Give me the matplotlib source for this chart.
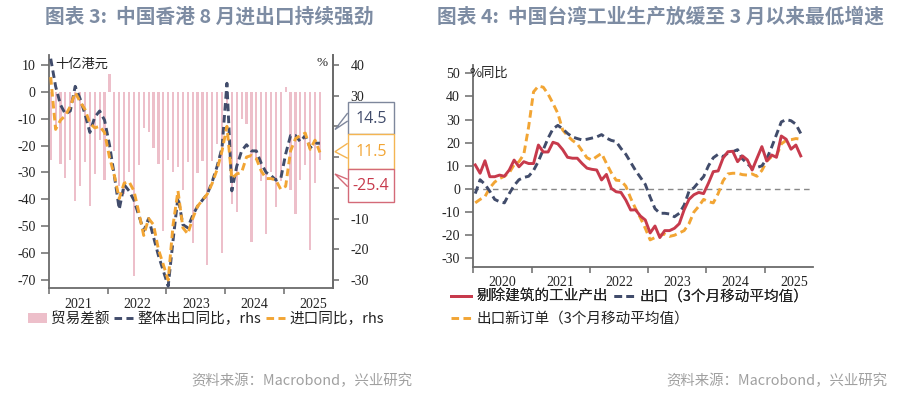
import matplotlib
matplotlib.use('Agg')
import matplotlib.pyplot as plt
import numpy as np
from matplotlib.patches import Polygon, Rectangle
from matplotlib.lines import Line2D

plt.rcParams['font.family'] = ['Noto Sans CJK SC', 'DejaVu Sans']

# ---------------- data ----------------
# Hong Kong, monthly from Jan 2021 to Aug 2025
hk_start_year = 2021
hk_trade_balance = [-25.4, -14, -26.9, -31.9, -25.4, -40.5, -35, -26.3, -42.4, -30.4, -18, -32.9,
                    6.5, -22, -35, -38, -30, -68.5, -27.3, -13.4, -15, -20.8, -26.9, -51.8,
                    -25.4, -30, -28, -36.6, -26.3, -56.4, -30.3, -25.7, -64.6, -25.6, -19.5, -59.8,
                    -6, -41.6, -44.6, -10.2, -11.8, -55.8, -25.4, -33, -52.8, -30, -43, -33,
                    1.9, -36.6, -45.3, -32.9, -27.3, -58.9, -34.1, -25.4]
hk_export_yoy = [42, 33, 27, 24, 25, 33, 29, 24, 18, 23, 25, 22,
                 14, 4, -7, 1, -1, -4, -9, -14, -10, -16, -22, -27,
                 -32, -17, -3, -12, -13, -9, -6, -4, -2, 2, 7, 13,
                 34, -1, 7, 12, 14, 12, 12, 8, 5, 4, 2.5, 3,
                 11, 17, 17, 15, 17, 13, 14.5, 14.5]
hk_import_yoy = [36, 19, 22, 23.5, 26.5, 31, 28, 25.5, 21, 19.5, 20, 18,
                 10, 4, -3.5, 1.5, 2, -1, -8, -15.5, -10, -12, -20, -25,
                 -30, -12, -1, -13, -15, -10, -6, -4, -2, 1.5, 6, 12,
                 20, 3, 4.5, 5, 10, 10.5, 9.5, 5.5, 3, 3, 2.5, -0.5,
                 0.5, 12, 16, 17, 17.8, 12.5, 15.5, 11.5]
hk_years = [2021, 2022, 2023, 2024, 2025]
hk_left_ticks = [10, 0, -10, -20, -30, -40, -50, -60, -70]
hk_right_ticks = [40, 30, 20, 10, 0, -10, -20, -30]
hk_right_hidden = [20, 10, 0]   # labels covered by the value boxes in the original

# Taiwan, monthly from Jan 2020 to Aug 2025
tw_start_year = 2020
tw_ip_ex_construction = [10.4, 6.8, 12.2, 5.3, 5.3, 6, 5.5, 8.2, 12.5, 9.6, 11.8, 11,
                         11, 19, 16, 16, 20.2, 19.5, 17, 13.7, 13.3, 13.3, 11, 9,
                         8.5, 8.2, 3.9, 6.3, 0.3, -1.2, -1.5, -4.8, -9.1, -9, -11.7, -13.4,
                         -19, -16, -21, -18, -18, -17, -15, -9, -4.5, -2.5, -1.5, -2,
                         2.5, 7.5, 7.8, 13.3, 16.1, 16.3, 11.8, 14.3, 12.6, 8.2, 13.3, 18.3,
                         12.1, 14.7, 13.7, 22.9, 21.5, 17.2, 19, 14.3]
tw_export_3mma = [-2, 4, 2, -1, -4.5, -5.5, -6, -2, 1.5, 4, 5, 5.5,
                  8, 12, 17, 22, 26, 27.5, 26, 24, 22.5, 21.8, 21.2, 21.5,
                  22, 22.5, 23.5, 22, 21, 20.5, 17.5, 15, 11.5, 8, 5, 2,
                  -3.5, -8.5, -10.5, -10.5, -10.8, -12, -10.5, -7, -1, 0.5, 3, 5.3,
                  10, 13.5, 15, 14, 15.5, 16.1, 17, 13, 11, 9, 9.3, 10,
                  13, 18, 23.5, 29, 30, 29.5, 28, 24]
tw_export_orders_3mma = [-6, -4.5, -3.3, 0.5, 3, 4.5, 5.5, 7, 10.5, 11.8, 15, 27,
                         42, 44.5, 44, 41, 37, 32.7, 25.5, 23, 21, 19.5, 16.5, 13.5,
                         12.5, 14, 15.4, 11.1, 7, 3.8, 3.6, 1.2, -4, -8.5, -12.5, -17,
                         -22, -21, -20, -19.5, -20.5, -20, -19, -18, -15, -10, -7.5, -4.5,
                         -5.5, -6, -2, 3.5, 6.5, 6.8, 6.8, 6.2, 6, 6.5, 5.5, 8,
                         12, 14, 14.3, 19.5, 21, 21.3, 21.8, 21.5]
tw_years = [2020, 2021, 2022, 2023, 2024, 2025]
tw_ticks = [50, 40, 30, 20, 10, 0, -10, -20, -30]

# ---------------- styles ----------------
W, H = 906, 394
C_BAR = '#edbfca'
C_NAVY = '#414c6b'
C_ORANGE = '#f2a534'
C_RED = '#c73a4c'
C_TITLE = '#7d8ca3'
C_SPINE = '#6b6b6b'
C_TXT = '#222222'
NUM_FONT = ['Liberation Serif', 'DejaVu Serif']
DASH = (2.6, 1.5)


def fx(px):
    return px / W


def fy(py):
    return 1 - py / H


fig = plt.figure(figsize=(W / 100, H / 100), dpi=100)
fig.patch.set_facecolor('white')


def style_time_axis(ax, years, xmax):
    ax.set_xlim(years[0], xmax)
    ax.set_xticks(years)
    ax.set_xticklabels([])
    ax.set_xticks([y + 0.5 for y in years], minor=True)
    ax.set_xticklabels([str(y) for y in years], minor=True, family=NUM_FONT, fontsize=10, color=C_TXT)
    ax.tick_params(axis='x', which='major', length=4.5, width=1.1, color=C_SPINE, direction='out')
    ax.tick_params(axis='x', which='minor', length=0, pad=7)


def legend_row(handles, labels, x_px, y_px):
    leg = fig.legend(handles, labels, loc='center left', bbox_to_anchor=(fx(x_px), fy(y_px)),
                     ncol=len(handles), frameon=False, fontsize=10.5, handlelength=1.4,
                     handleheight=0.75, handletextpad=0.35, columnspacing=0.4,
                     borderpad=0, borderaxespad=0)
    for t in leg.get_texts():
        t.set_color(C_TXT)
    return leg


# ================= left chart =================
axL = fig.add_axes([fx(49), fy(288), fx(333) - fx(49), fy(55) - fy(288)])
n_hk = len(hk_trade_balance)
t_hk = hk_start_year + (np.arange(n_hk) + 0.35) / 12
axL.bar(t_hk, hk_trade_balance, width=0.45 / 12, color=C_BAR, zorder=1)
axL.set_ylim(-73, 13.7)
axL.set_yticks(hk_left_ticks)
axL.set_yticklabels([str(v) for v in hk_left_ticks], family=NUM_FONT, fontsize=10, color=C_TXT)
style_time_axis(axL, hk_years, 2025.835)
axL.tick_params(axis='y', length=5.5, width=1.1, color=C_SPINE, direction='out', pad=4)
axL.spines['top'].set_visible(False)
for s in ['left', 'bottom', 'right']:
    axL.spines[s].set_color(C_SPINE)
    axL.spines[s].set_linewidth(1.3)

axR = axL.twinx()
axR.set_ylim(-32.6, 43.2)
axR.set_yticks(hk_right_ticks)
axR.set_yticklabels(['' if v in hk_right_hidden else str(v) for v in hk_right_ticks],
                    family=NUM_FONT, fontsize=10, color=C_TXT)
axR.tick_params(axis='y', length=4.5, width=1.1, color=C_SPINE, direction='out', pad=8)
axR.spines['top'].set_visible(False)
axR.spines['left'].set_visible(False)
axR.spines['bottom'].set_visible(False)
axR.spines['right'].set_color(C_SPINE)
axR.spines['right'].set_linewidth(1.3)
ln_exp, = axR.plot(t_hk, hk_export_yoy, color=C_NAVY, lw=2.1, dashes=DASH, zorder=3)
ln_imp, = axR.plot(t_hk, hk_import_yoy, color=C_ORANGE, lw=2.1, dashes=DASH, zorder=4)

fig.text(fx(55), fy(64), '十亿港元', fontsize=9.5, color=C_TXT, va='center', ha='left')
fig.text(fx(322), fy(63), '%', family=NUM_FONT, fontsize=9.5, color=C_TXT, va='center', ha='center')

# callout boxes with the latest values
ov = fig.add_axes([0, 0, 1, 1], facecolor='none')
ov.set_xlim(0, W)
ov.set_ylim(H, 0)
ov.axis('off')
boxes = [
    (101.7, 134.3, f'{hk_export_yoy[-1]:.1f}', C_NAVY, '#7e879c', [(347.7, 113), (335, 129.5), (347.7, 121)]),
    (134.3, 169.0, f'{hk_import_yoy[-1]:.1f}', C_ORANGE, '#f4b552', [(347.7, 143.3), (335, 151.7), (347.7, 158.3)]),
    (169.0, 201.7, f'{hk_trade_balance[-1]:.1f}', C_RED, '#d46a78', [(347.7, 179.3), (335, 174), (347.7, 186.7)]),
]
for y0, y1, txt, tc, ec, ptr in boxes:
    ov.add_patch(Rectangle((347.7, y0), 46.5, y1 - y0, facecolor='white', edgecolor=ec, lw=1.0, zorder=5))
    ov.add_patch(Polygon(ptr, closed=False, fill=False, edgecolor=ec, lw=1.0, zorder=6))
    ov.text(371, (y0 + y1) / 2 + 0.5, txt, color=tc, fontsize=11.5, ha='center', va='center',
            family=['Open Sans', 'DejaVu Sans'], zorder=7)

# legend left
hL = [Rectangle((0, 0), 1, 1, facecolor=C_BAR, edgecolor='none'),
      Line2D([], [], color=C_NAVY, lw=2.1, dashes=DASH),
      Line2D([], [], color=C_ORANGE, lw=2.1, dashes=DASH)]
legL = fig.legend(hL, ['贸易差额', '整体出口同比，rhs', '进口同比，rhs'], loc='center left',
                  bbox_to_anchor=(fx(28), fy(319)), ncol=3, frameon=False, fontsize=10.5,
                  handlelength=1.3, handleheight=0.75, handletextpad=0.3, columnspacing=0.3,
                  borderpad=0, borderaxespad=0)
for t in legL.get_texts():
    t.set_color(C_TXT)

# ================= right chart =================
ax2 = fig.add_axes([fx(473.3), fy(266.7), fx(813) - fx(473.3), fy(65) - fy(266.7)])
n_tw = len(tw_ip_ex_construction)
t_tw = tw_start_year + (np.arange(n_tw) + 0.4) / 12
ax2.axhline(0, color='#888888', lw=1.0, ls=(0, (4, 3)), zorder=1)
ln_ord, = ax2.plot(t_tw, tw_export_orders_3mma, color=C_ORANGE, lw=2.1, dashes=DASH, zorder=2)
ln_ex2, = ax2.plot(t_tw, tw_export_3mma, color=C_NAVY, lw=2.1, dashes=DASH, zorder=3)
ln_ip, = ax2.plot(t_tw, tw_ip_ex_construction, color=C_RED, lw=2.1, zorder=4)
ax2.set_ylim(-33.6, 53.6)
ax2.set_yticks(tw_ticks)
ax2.set_yticklabels([str(v) for v in tw_ticks], family=NUM_FONT, fontsize=10, color=C_TXT)
ax2.tick_params(axis='y', length=5.5, width=1.1, color=C_SPINE, direction='out', pad=4)
style_time_axis(ax2, tw_years, 2025.827)
ax2.spines['top'].set_visible(False)
ax2.spines['right'].set_visible(False)
for s in ['left', 'bottom']:
    ax2.spines[s].set_color(C_SPINE)
    ax2.spines[s].set_linewidth(1.3)
fig.text(fx(470), fy(73), '%同比', fontsize=9.5, color=C_TXT, va='center', ha='left')

legR1 = legend_row([ln_ip, ln_ex2], ['剔除建筑的工业产出', '出口（3个月移动平均值）'], 451, 297)
legR2 = legend_row([ln_ord], ['出口新订单（3个月移动平均值）'], 451, 319)
fig.add_artist(legR1)

# titles and sources
fig.text(fx(45), fy(17), '图表 3:  中国香港 8 月进出口持续强劲', fontsize=14.2, fontweight='bold',
         color=C_TITLE, ha='left', va='center')
fig.text(fx(437), fy(17), '图表 4:  中国台湾工业生产放缓至 3 月以来最低增速', fontsize=14.2, fontweight='bold',
         color=C_TITLE, ha='left', va='center')
fig.text(fx(412), fy(381), '资料来源：Macrobond，兴业研究', fontsize=10.4, color='#a0a0a0', ha='right', va='center')
fig.text(fx(887), fy(381), '资料来源：Macrobond，兴业研究', fontsize=10.4, color='#a0a0a0', ha='right', va='center')

fig.savefig('out.png', dpi=100, facecolor='white')
